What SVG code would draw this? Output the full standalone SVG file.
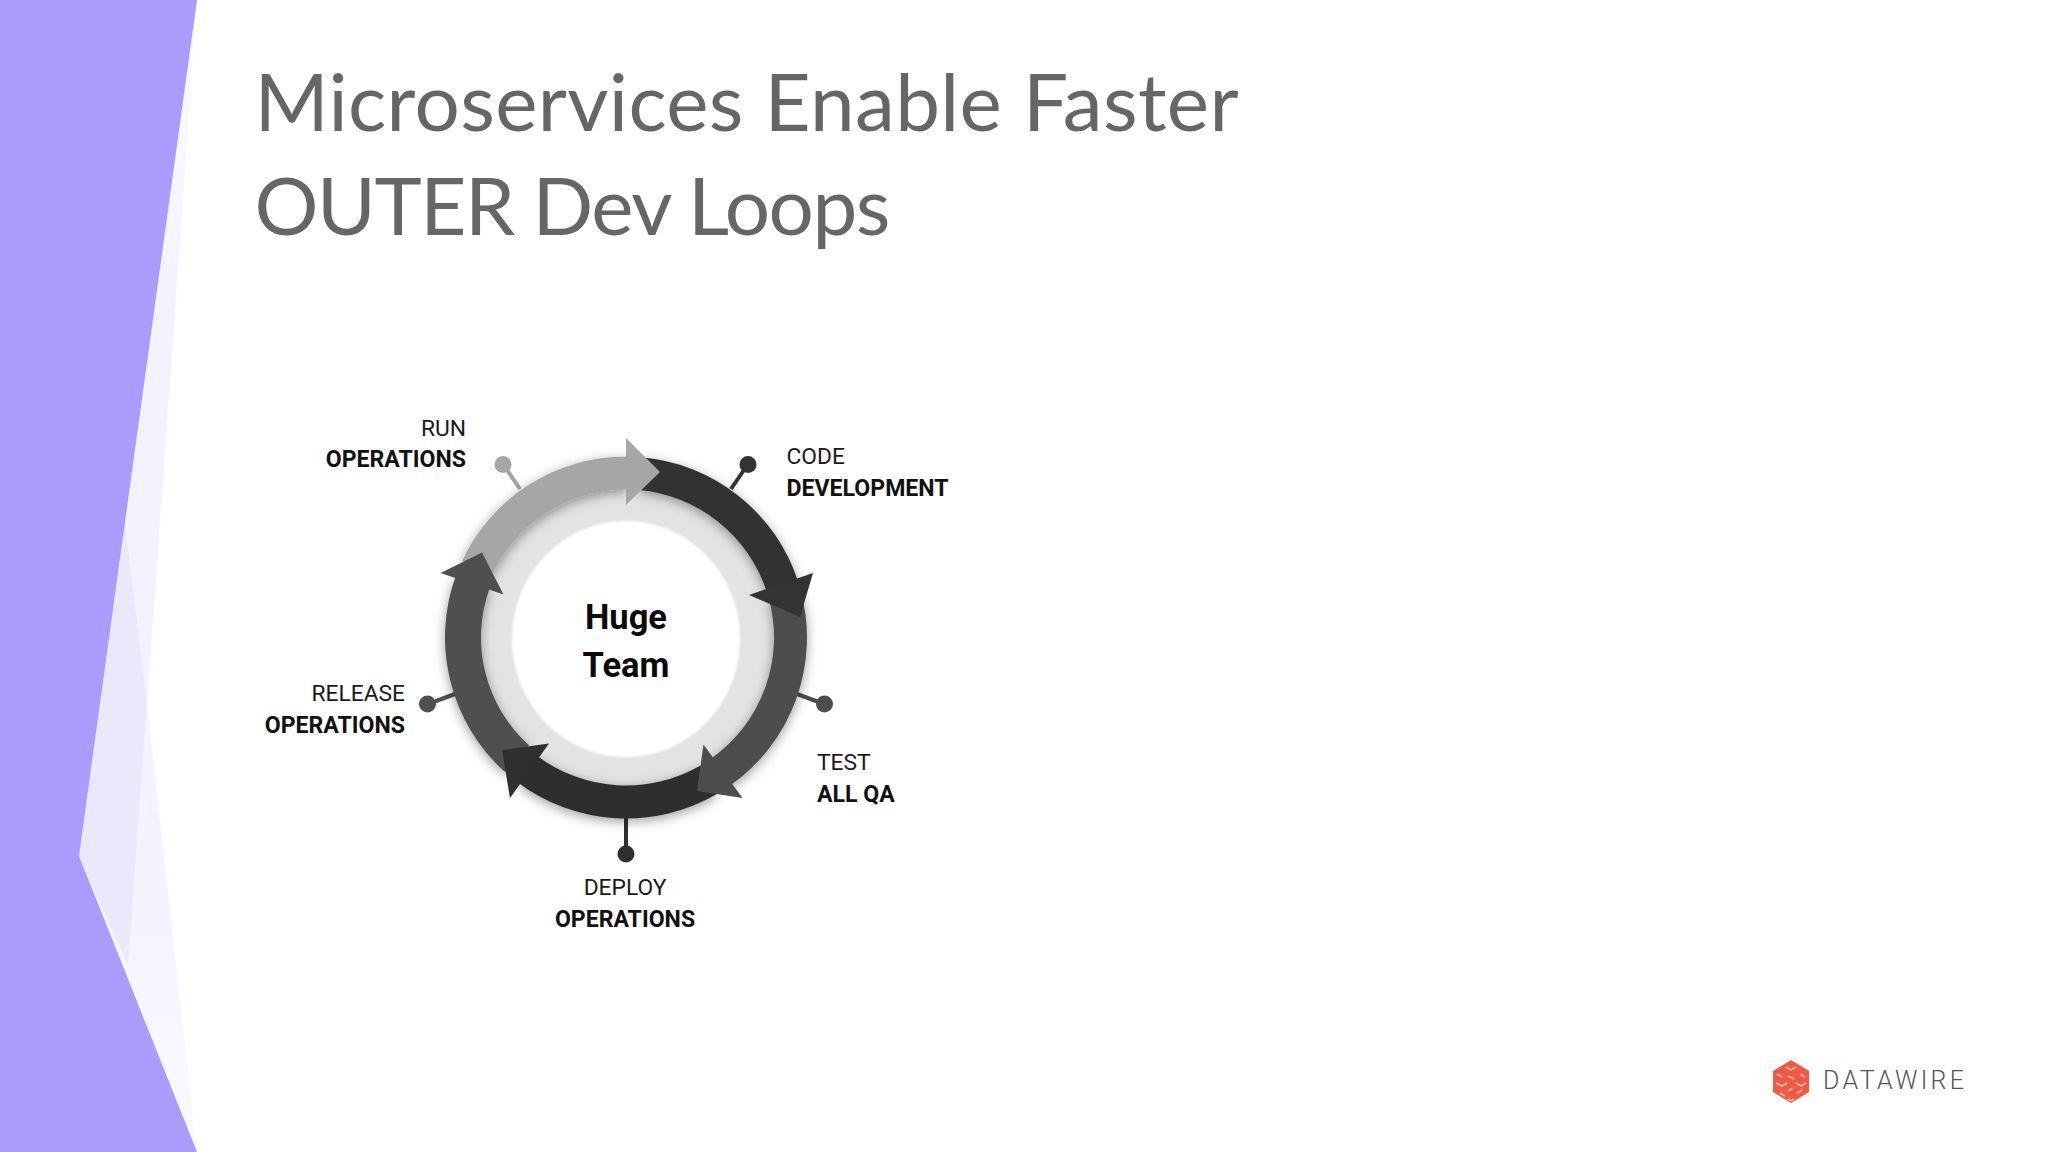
<svg xmlns="http://www.w3.org/2000/svg" width="2048" height="1152" viewBox="0 0 2048 1152">
<style>
.title{font-family:"Lato","Noto Sans",sans-serif;font-weight:400;font-size:80px;fill:#666}
.l{font-family:"Roboto","Liberation Sans",sans-serif;font-size:22.8px;fill:#1a1a1a;font-weight:400}
.b{font-weight:700;fill:#111;font-size:23.1px}
.e{text-anchor:end}
.m{text-anchor:middle}
.c{font-family:"Roboto","Liberation Sans",sans-serif;font-size:34.5px;font-weight:700;fill:#0a0a0a;text-anchor:middle}
.w{stroke-width:4;fill:none}
</style>
<defs>
<filter id="s" x="-30%" y="-30%" width="160%" height="160%"><feDropShadow dx="0" dy="3" stdDeviation="6" flood-color="#000" flood-opacity="0.38"/></filter>
<filter id="b2" x="-10%" y="-10%" width="120%" height="120%"><feGaussianBlur stdDeviation="1.2"/></filter>
<linearGradient id="lg" x1="0" y1="0" x2="0" y2="1"><stop offset="0" stop-color="#fcfbff"/><stop offset="0.3" stop-color="#f3f1ff"/><stop offset="0.8" stop-color="#f5f3ff"/><stop offset="1" stop-color="#fbfaff"/></linearGradient>
</defs>
<rect width="2048" height="1152" fill="#fff"/>
<g id="background">
<polygon points="197,0 147,705 197,1152 79,856" fill="url(#lg)"/>
<polygon points="125,525 147,702 128,965 79,856" fill="#ebe8fc"/>
<polygon points="0,0 197,0 79,856 197,1152 0,1152" fill="#aa9cfd"/>
</g>
<g id="title">
<text class="title" x="254.500" y="131" textLength="984" lengthAdjust="spacing">Microservices Enable Faster</text>
<text class="title" x="254.500" y="235" textLength="636" lengthAdjust="spacing">OUTER Dev Loops</text>
</g>
<g id="connectors">
<line class="w" x1="520" y1="489" x2="503" y2="464" stroke="#a6a6a6"/>
<circle cx="503" cy="464.500" r="8.500" fill="#a6a6a6"/>
<line class="w" x1="731" y1="489" x2="748" y2="464" stroke="#333"/>
<circle cx="748" cy="464.500" r="8.500" fill="#333"/>
<line class="w" x1="797" y1="694" x2="824" y2="704" stroke="#4d4d4d"/>
<circle cx="824.500" cy="704" r="8.500" fill="#4d4d4d"/>
<line class="w" x1="626" y1="815" x2="626" y2="853" stroke="#2f2f2f"/>
<circle cx="626" cy="854" r="8.500" fill="#2f2f2f"/>
<line class="w" x1="455" y1="694" x2="428" y2="704" stroke="#4f4f4f"/>
<circle cx="427.500" cy="704" r="8.500" fill="#4f4f4f"/>
</g>
<g id="hub">
<circle cx="626" cy="637.500" r="160" fill="#e3e3e3"/>
<ellipse cx="626" cy="639" rx="114" ry="118" fill="#fff" filter="url(#b2)"/>
<text class="c" x="626" y="629">Huge</text>
<text class="c" x="626" y="677">Team</text>
</g>
<g id="ring" filter="url(#s)">
<path d="M462,561 A181,181 0 0 1 626,456.500 L626,489.500 A148,148 0 0 0 491.900,575 Z" fill="#a6a6a6"/>
<path d="M641.800,457.200 A181,181 0 0 1 798.100,581.600 L766.800,591.800 A148,148 0 0 0 638.900,490.100 Z" fill="#333"/>
<path d="M800.800,590.700 A181,181 0 0 1 729.800,785.800 L710.900,758.700 A148,148 0 0 0 769,599.200 Z" fill="#4d4d4d"/>
<path d="M716.500,794.300 A181,181 0 0 1 517.100,782 L536.900,755.700 A148,148 0 0 0 700,765.700 Z" fill="#2f2f2f"/>
<path d="M504.900,772 A181,181 0 0 1 455.900,575.600 L489.700,587.900 A145,145 0 0 0 529,745.200 Z" fill="#4f4f4f"/>
</g>
<g id="heads">
<polygon points="813,573 749,595 800,617" fill="#333"/>
<polygon points="703.500,744.500 742.500,798 697,791" fill="#4d4d4d"/>
<polygon points="549,743.500 510,798 502,750" fill="#2f2f2f"/>
<polygon points="440.500,573 503.500,594.500 482,552.500" fill="#4f4f4f"/>
<polygon points="626,438 660,472 626,505" fill="#a6a6a6"/>
</g>
<g id="run"><text class="l e" x="466" y="436">RUN</text><text class="l b e" x="466" y="467">OPERATIONS</text></g>
<g id="code"><text class="l" x="786.500" y="464">CODE</text><text class="l b" x="786.500" y="495.500">DEVELOPMENT</text></g>
<g id="test"><text class="l" x="817" y="770">TEST</text><text class="l b" x="817" y="802">ALL QA</text></g>
<g id="deploy"><text class="l m" x="625" y="895">DEPLOY</text><text class="l b m" x="625" y="927">OPERATIONS</text></g>
<g id="release"><text class="l e" x="405" y="701">RELEASE</text><text class="l b e" x="405" y="732.500">OPERATIONS</text></g>
<g id="logo">
<polygon points="1791,1060 1809,1071 1809,1092 1791,1103 1773,1092 1773,1071" fill="#ef5a45"/>
<path d="M1786,1067 l5,3 5,-3 M1777,1074 l5,3 M1800,1074 l5,3 M1788,1076 l6,3 M1776,1083 l6,3 5,-3 M1796,1083 l5,3 5,-3 M1788,1091 l5,-3 M1780,1093 l5,3 M1797,1093 l5,-3 M1788,1099 l3,1.500 3,-1.500" stroke="#fbb9ae" stroke-width="1.800" fill="none"/>
<text x="1823" y="1089" font-family="'Roboto',sans-serif" font-size="25" font-weight="300" fill="#555" textLength="141" lengthAdjust="spacing">DATAWIRE</text>
</g>
</svg>
